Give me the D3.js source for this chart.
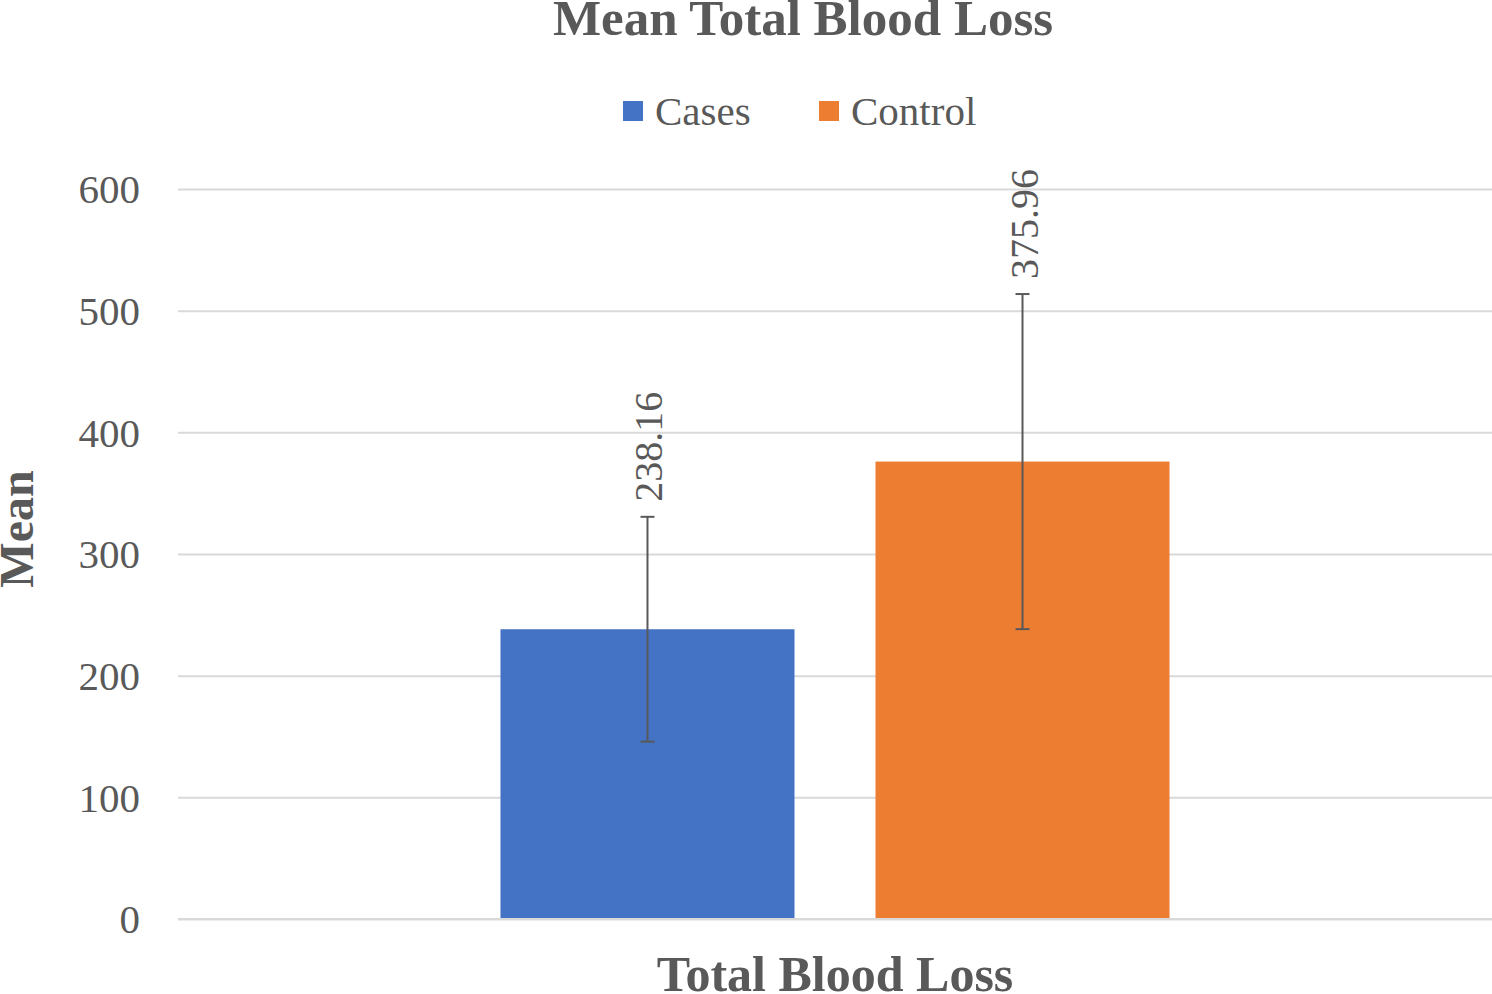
<!DOCTYPE html>
<html>
<head>
<meta charset="utf-8">
<script src="https://cdn.jsdelivr.net/npm/d3@7"></script>
<style>
  html, body { margin: 0; padding: 0; background: #fff; }
  svg { display: block; }
</style>
</head>
<body>
<svg id="chart" width="1492" height="994"></svg>
<script>
const categories = ["Total Blood Loss"];
const seriesNames = ["Cases", "Control"];
const seriesColors = ["#4472c4", "#ed7d31"];
const meanValues = [238.16, 375.96];
const errorValues = [92.4, 137.7];
const valueLabels = ["238.16", "375.96"];
const yTicks = [0, 100, 200, 300, 400, 500, 600];

const FONT = "'Liberation Serif', 'Times New Roman', Times, serif";
const TXT = "#595959";

const svg = d3.select("#chart").attr("font-family", FONT);
const plot = { left: 178, right: 1492, top: 189, bottom: 919 };

const y = d3.scaleLinear().domain([0, 600]).range([plot.bottom, plot.top]);
const x0 = d3.scaleBand().domain(categories).range([plot.left, plot.right]).paddingInner(0).paddingOuter(0.482);
const x1 = d3.scaleBand().domain(seriesNames).range([0, x0.bandwidth()]).paddingInner(0.216).paddingOuter(0);
const color = d3.scaleOrdinal().domain(seriesNames).range(seriesColors);

// gridlines + tick labels
const yAxis = d3.axisLeft(y).tickValues(yTicks).tickSize(-(plot.right - plot.left)).tickPadding(38).tickFormat(d3.format("d"));
const gA = svg.append("g").attr("transform", `translate(${plot.left},0)`).call(yAxis)
  .attr("font-family", FONT);
gA.select(".domain").remove();
gA.selectAll(".tick line").attr("stroke", "#d9d9d9").attr("stroke-width", 2);
gA.selectAll(".tick text").attr("font-size", 41).attr("fill", TXT)
  .attr("font-family", FONT).attr("dy", "0.34em");

const data = seriesNames.map((s, i) => ({ cat: categories[0], series: s, value: meanValues[i], err: errorValues[i], label: valueLabels[i] }));

const g = svg.append("g");
g.selectAll("rect.bar").data(data).join("rect")
  .attr("class", "bar")
  .attr("x", d => x0(d.cat) + x1(d.series))
  .attr("width", x1.bandwidth())
  .attr("y", d => y(d.value))
  .attr("height", d => y(0) - y(d.value))
  .attr("fill", d => color(d.series));

// baseline on top of bars
svg.append("line").attr("x1", plot.left).attr("x2", plot.right).attr("y1", y(0)).attr("y2", y(0))
  .attr("stroke", "#d9d9d9").attr("stroke-width", 2);

// error bars
const eb = g.selectAll("g.err").data(data).join("g").attr("class", "err");
const cx = d => x0(d.cat) + x1(d.series) + x1.bandwidth() / 2;
const cap = 7;
eb.append("line").attr("x1", cx).attr("x2", cx).attr("y1", d => y(d.value + d.err)).attr("y2", d => y(d.value - d.err))
  .attr("stroke", TXT).attr("stroke-width", 2);
eb.append("line").attr("x1", d => cx(d) - cap).attr("x2", d => cx(d) + cap).attr("y1", d => y(d.value + d.err)).attr("y2", d => y(d.value + d.err))
  .attr("stroke", TXT).attr("stroke-width", 2);
eb.append("line").attr("x1", d => cx(d) - cap).attr("x2", d => cx(d) + cap).attr("y1", d => y(d.value - d.err)).attr("y2", d => y(d.value - d.err))
  .attr("stroke", TXT).attr("stroke-width", 2);

// value labels (rotated)
g.selectAll("text.val").data(data).join("text")
  .attr("class", "val")
  .attr("transform", d => `translate(${cx(d) + 15},${y(d.value + d.err) - 15}) rotate(-90)`)
  .attr("font-family", FONT)
  .attr("font-size", 40)
  .attr("fill", TXT)
  .attr("text-anchor", "start")
  .text(d => d.label);

// title
svg.append("text").attr("x", 803).attr("y", 35).attr("text-anchor", "middle")
  .attr("font-family", FONT).attr("fill", TXT)
  .attr("font-size", 51).attr("font-weight", "bold").text("Mean Total Blood Loss");

// legend
const legendX = [623, 819];
const lg = svg.append("g");
seriesNames.forEach((s, i) => {
  lg.append("rect").attr("x", legendX[i]).attr("y", 101).attr("width", 20).attr("height", 20).attr("fill", color(s));
  lg.append("text").attr("x", legendX[i] + 32).attr("y", 125)
    .attr("font-family", FONT).attr("fill", TXT).attr("font-size", 41).text(s);
});

// axis titles
svg.append("text").attr("x", (plot.left + plot.right) / 2).attr("y", 991).attr("text-anchor", "middle")
  .attr("font-family", FONT).attr("fill", TXT)
  .attr("font-size", 50).attr("font-weight", "bold").text(categories[0]);
svg.append("text").attr("transform", `translate(33,529) rotate(-90)`).attr("text-anchor", "middle")
  .attr("font-family", FONT).attr("fill", TXT)
  .attr("font-size", 48).attr("font-weight", "bold").text("Mean");
</script>
</body>
</html>
